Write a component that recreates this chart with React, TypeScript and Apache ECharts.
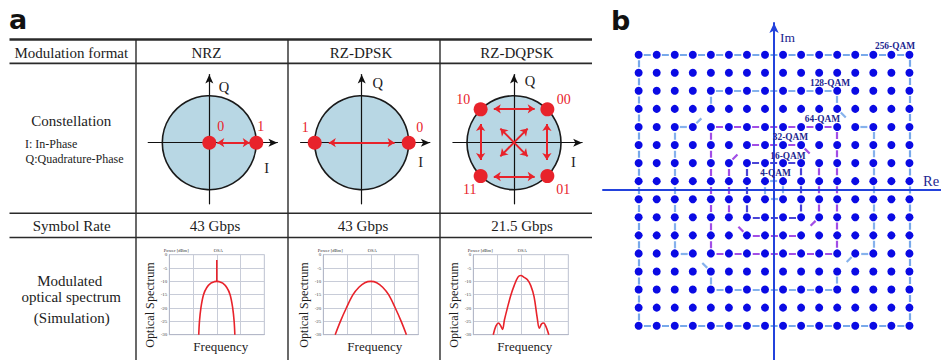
import React, { useEffect, useRef } from 'react';
import * as echarts from 'echarts';

// ---------------- Data ----------------
const headerLabel = 'Modulation format';
const formats = ['NRZ', 'RZ-DPSK', 'RZ-DQPSK'];
const symbolRateLabel = 'Symbol Rate';
const symbolRates = ['43 Gbps', '43 Gbps', '21.5 Gbps'];

// constellation points (unit circle) and their bit labels
const nrzPoints = [[0, 0], [1, 0]];
const nrzBits = ['0', '1'];
const dpskPoints = [[-1, 0], [1, 0]];
const dpskBits = ['1', '0'];
const dqpskPoints = [[-0.71, 0.71], [0.71, 0.71], [-0.71, -0.71], [0.71, -0.71]];
const dqpskBits = ['10', '00', '11', '01'];

// transitions (double arrows)
const nrzTransitions = [[[0.17, 0], [0.86, 0]]];
const dpskTransitions = [[[-0.7, 0], [0.7, 0]]];
const dqpskTransitions = [
  [[-0.43, 0.72], [0.44, 0.72]],
  [[-0.43, -0.72], [0.44, -0.72]],
  [[-0.71, 0.4], [-0.71, -0.37]],
  [[0.7, 0.4], [0.7, -0.37]],
  [[-0.29, 0.3], [0.29, -0.29]],
  [[0.29, 0.3], [-0.29, -0.29]],
];

// spectra (relative frequency, dBm)
const nrzSpectrum = [
  [-0.76, -30], [-0.73, -25], [-0.67, -20], [-0.56, -15], [-0.42, -12.3], [-0.25, -10.7],
  [-0.1, -10.1], [0, -10], [0.1, -10.1], [0.25, -10.7], [0.42, -12.3], [0.56, -15],
  [0.67, -20], [0.73, -25], [0.76, -30],
];
const nrzCarrier = [[0, -10], [0, -2]];
const dpskSpectrum = [
  [-1.5, -30], [-1.28, -25], [-1.03, -20], [-0.75, -15], [-0.5, -12.2], [-0.25, -10.5],
  [0, -10], [0.25, -10.5], [0.5, -12.2], [0.75, -15], [1.03, -20], [1.28, -25], [1.5, -30],
];
const dqpskSpectrum = [
  [-1.16, -30], [-1.05, -26.8], [-0.94, -25.6], [-0.85, -26.6], [-0.77, -28], [-0.69, -24.5],
  [-0.58, -20.5], [-0.42, -15.2], [-0.28, -11.6], [-0.12, -8.4], [0, -7.8], [0.14, -8.5],
  [0.28, -9.4], [0.42, -11.6], [0.56, -15.8], [0.69, -23.6], [0.78, -27.6], [0.87, -26],
  [0.96, -25.6], [1.06, -27], [1.18, -30],
];

// QAM grid
const qamLevels = [-15, -13, -11, -9, -7, -5, -3, -1, 1, 3, 5, 7, 9, 11, 13, 15];
const qam256 = [[-15, 15], [15, 15], [15, -15], [-15, -15]];
const qam128 = [
  [-7, 11], [7, 11], [7, 9], [9, 7], [11, 7], [11, -7], [9, -7], [7, -9],
  [7, -11], [-7, -11], [-7, -9], [-9, -7], [-11, -7], [-11, 7], [-9, 7], [-7, 9],
];
const qam64 = [[-7, 7], [7, 7], [7, -7], [-7, -7]];
const qam32 = [[-3, 5], [3, 5], [5, 3], [5, -3], [3, -5], [-3, -5], [-5, -3], [-5, 3]];
const qam16 = [[-3, 3], [3, 3], [3, -3], [-3, -3]];
const qam4 = [[-1, 1], [1, 1], [1, -1], [-1, -1]];
const qamNames = ['256-QAM', '128-QAM', '64-QAM', '32-QAM', '16-QAM', '4-QAM'];

// ---------------- Layout / style ----------------
const SERIF = 'Liberation Serif, serif';
const SANS = 'DejaVu Sans, sans-serif';
const INK = '#1c1c1c';
const RED = '#e8232b';
const CIRCLE_FILL = '#b8d7e4';
const R = 47;
const C_MIN = -1.3;
const C_MAX = 1.45;
const constCenters = [[209.3, 142.7], [361.7, 142.7], [514, 142.7]];
const specLefts = [169.3, 323.3, 473.3];
const SPEC_TOP = 254.7;
const SPEC_W = 95;
const SPEC_H = 80;
const Q_UNIT = 9.05;
const Q_CX = 774.5;
const Q_CY = 190.5;
const Q_X = [-18.95, 18.5];
const Q_Y = [-18.8, 18.5];

function T(x: number, y: number, text: string, size: number, o: any = {}) {
  return {
    type: 'text',
    x,
    y,
    z: 20,
    rotation: o.rotation || 0,
    style: {
      text,
      fontSize: size,
      fontFamily: o.family || SERIF,
      fontWeight: o.weight || 'normal',
      fill: o.fill || INK,
      align: o.align || 'center',
      verticalAlign: 'middle',
    },
  };
}
function L(x1: number, y1: number, x2: number, y2: number, w: number) {
  return { type: 'line', z: 20, shape: { x1, y1, x2, y2 }, style: { stroke: '#2a2a2a', lineWidth: w } };
}
function segments(poly: number[][]) {
  return poly.map((p, i) => ({ coords: [p, poly[(i + 1) % poly.length]] }));
}

function buildOption() {
  const grid: any[] = [];
  const xAxis: any[] = [];
  const yAxis: any[] = [];
  const series: any[] = [];

  // constellation grids 0..2
  const constData = [
    { pts: nrzPoints, bits: nrzBits, tr: nrzTransitions, offs: [[11.5, -16], [4.5, -16]] },
    { pts: dpskPoints, bits: dpskBits, tr: dpskTransitions, offs: [[-9.5, -15.5], [11, -15.5]] },
    { pts: dqpskPoints, bits: dqpskBits, tr: dqpskTransitions, offs: [[-17.5, -9.5], [16.5, -9.5], [-11, 13.5], [16, 13.5]] },
  ];
  constData.forEach((c, k) => {
    const [cx, cy] = constCenters[k];
    grid.push({ left: cx + C_MIN * R, top: cy - C_MAX * R, width: (C_MAX - C_MIN) * R, height: (C_MAX - C_MIN) * R });
    const ax = {
      gridIndex: k, type: 'value', min: C_MIN, max: C_MAX, z: 3,
      axisLine: { show: true, onZero: true, symbol: ['none', 'arrow'], symbolSize: [6, 9], lineStyle: { color: '#111', width: 1.2 } },
      axisTick: { show: false }, axisLabel: { show: false }, splitLine: { show: false },
    };
    xAxis.push({ ...ax });
    yAxis.push({ ...ax });
    series.push({
      type: 'scatter', xAxisIndex: k, yAxisIndex: k, z: 1, silent: true,
      symbolSize: 2 * R, data: [[0, 0]],
      itemStyle: { color: CIRCLE_FILL, borderColor: '#1a1a1a', borderWidth: 1.6, opacity: 1 },
    });
    series.push({
      type: 'lines', coordinateSystem: 'cartesian2d', xAxisIndex: k, yAxisIndex: k, z: 5, silent: true,
      symbol: ['arrow', 'arrow'], symbolSize: 7,
      lineStyle: { color: RED, width: 2, opacity: 1 },
      data: c.tr.map((s) => ({ coords: s })),
    });
    series.push({
      type: 'scatter', xAxisIndex: k, yAxisIndex: k, z: 6, silent: true,
      symbolSize: 14, itemStyle: { color: RED, opacity: 1 },
      data: c.pts.map((p, i) => ({
        value: p,
        label: {
          show: true, formatter: c.bits[i], position: 'inside', offset: c.offs[i],
          color: RED, fontSize: 14, fontFamily: SERIF,
        },
      })),
    });
  });

  // spectrum grids 3..5
  const specData = [[nrzSpectrum, nrzCarrier], [dpskSpectrum], [dqpskSpectrum]];
  specData.forEach((sd, k) => {
    const gi = 3 + k;
    grid.push({ left: specLefts[k], top: SPEC_TOP, width: SPEC_W, height: SPEC_H, show: true, borderColor: '#c4c8d6', borderWidth: 1 });
    xAxis.push({
      gridIndex: gi, type: 'value', min: -2, max: 2, interval: 1,
      axisLine: { show: true, onZero: false, lineStyle: { color: '#b4b8c8', width: 1 } },
      axisTick: { show: false }, axisLabel: { show: false },
      splitLine: { show: true, lineStyle: { color: '#c8ccd8', width: 1 } },
    });
    yAxis.push({
      gridIndex: gi, type: 'value', min: -30, max: 0, interval: 5,
      axisLine: { show: true, onZero: false, lineStyle: { color: '#b4b8c8', width: 1 } },
      axisTick: { show: false },
      axisLabel: { show: true, fontSize: 5, color: '#444', margin: 2, fontFamily: SERIF },
      splitLine: { show: true, lineStyle: { color: '#c8ccd8', width: 1 } },
    });
    sd.forEach((d, j) => {
      series.push({
        type: 'line', xAxisIndex: gi, yAxisIndex: gi, data: d, smooth: j === 0 ? 0.35 : false,
        showSymbol: false, silent: true, z: 4,
        lineStyle: { color: RED, width: 1.6 },
      });
    });
  });

  // QAM grid 6
  grid.push({
    left: Q_CX + Q_X[0] * Q_UNIT, top: Q_CY - Q_Y[1] * Q_UNIT,
    width: (Q_X[1] - Q_X[0]) * Q_UNIT, height: (Q_Y[1] - Q_Y[0]) * Q_UNIT,
  });
  const qAxisLine = { show: true, onZero: true, lineStyle: { color: '#2342dc', width: 2 } };
  xAxis.push({
    gridIndex: 6, type: 'value', min: Q_X[0], max: Q_X[1], z: 4,
    axisLine: { ...qAxisLine, symbol: ['none', 'none'] },
    axisTick: { show: false }, axisLabel: { show: false }, splitLine: { show: false },
  });
  yAxis.push({
    gridIndex: 6, type: 'value', min: Q_Y[0], max: Q_Y[1], z: 4,
    axisLine: { ...qAxisLine, symbol: ['none', 'arrow'], symbolSize: [7, 10] },
    axisTick: { show: false }, axisLabel: { show: false }, splitLine: { show: false },
  });
  const bounds: [number[][], string][] = [
    [qam256, '#78a9ea'], [qam128, '#86b2ec'], [qam64, '#a24ee6'],
    [qam32, '#a24ee6'], [qam16, '#4a44d6'], [qam4, '#86b2ec'],
  ];
  bounds.forEach(([poly, color]) => {
    series.push({
      type: 'lines', coordinateSystem: 'cartesian2d', xAxisIndex: 6, yAxisIndex: 6, z: 3, silent: true,
      symbol: ['none', 'none'],
      lineStyle: { color, width: 2.2, opacity: 1, type: [7, 11.1], dashOffset: 12.5 },
      data: segments(poly),
    });
  });
  const pts: number[][] = [];
  qamLevels.forEach((x) => qamLevels.forEach((y) => pts.push([x, y])));
  series.push({
    type: 'scatter', xAxisIndex: 6, yAxisIndex: 6, z: 6, silent: true,
    symbolSize: 8, itemStyle: { color: '#0a0ae4', opacity: 1 }, data: pts,
  });

  // ---- graphics: table, texts ----
  const g: any[] = [];
  g.push(T(9, 19, 'a', 27, { family: SANS, weight: 'bold', align: 'left', fill: '#111' }));
  g.push(T(611, 20, 'b', 27, { family: SANS, weight: 'bold', align: 'left', fill: '#111' }));
  g.push(L(9.5, 39.5, 592, 39.5, 2.4));
  g.push(L(9.5, 63.3, 592, 63.3, 1.8));
  g.push(L(9.5, 213.3, 592, 213.3, 1.4));
  g.push(L(9.5, 237.5, 592, 237.5, 1.4));
  [136, 288, 440].forEach((x) => g.push(L(x, 39, x, 360, 1.4)));

  g.push(T(71.3, 53.3, headerLabel, 15));
  const colCenters = [206.5, 361, 517];
  formats.forEach((f, i) => g.push(T(colCenters[i], 53.3, f, 15)));
  g.push(T(71.3, 121, 'Constellation', 15));
  g.push(T(25, 144.3, 'I: In-Phase', 12, { align: 'left' }));
  g.push(T(25.5, 159.3, 'Q:Quadrature-Phase', 12, { align: 'left' }));
  g.push(T(71.7, 226, symbolRateLabel, 15));
  const rateCenters = [215, 363, 522];
  symbolRates.forEach((s, i) => g.push(T(rateCenters[i], 226, s, 15)));
  g.push(T(69.7, 281, 'Modulated', 15));
  g.push(T(71.2, 296.7, 'optical spectrum', 15));
  g.push(T(71.7, 318.3, '(Simulation)', 15));

  // constellation axis names
  const qPos = [[224, 87.3], [377.7, 82.7], [530, 81]];
  const iPos = [[266.7, 168.3], [420.7, 162.3], [573.3, 162.3]];
  qPos.forEach((p) => g.push(T(p[0], p[1], 'Q', 14.5)));
  iPos.forEach((p) => g.push(T(p[0], p[1], 'I', 14.5)));

  // spectrum labels
  specLefts.forEach((l) => {
    g.push(T(l - 19, 305, 'Optical Spectrum', 12.2, { rotation: Math.PI / 2 }));
    g.push(T(l + SPEC_W / 2 + 4, 346, 'Frequency', 13));
    g.push(T(l - 5.5, 250, 'Power [dBm]', 4.6, { align: 'left', fill: '#333' }));
    g.push(T(l + SPEC_W / 2 + 1.5, 250, 'OSA', 4.6, { fill: '#333' }));
  });

  // QAM labels
  const qamLabelPos = [[895, 45.7], [830, 82.7], [822.5, 119.3], [790.5, 137.3], [788, 155.7], [775.5, 173.3]];
  qamNames.forEach((n, i) =>
    g.push(T(qamLabelPos[i][0], qamLabelPos[i][1], n, 9.4, { weight: 'bold', fill: '#1c2690' })),
  );
  g.push(T(780, 37.3, 'Im', 13.5, { align: 'left', fill: '#1c2690' }));
  g.push(T(923, 180.5, 'Re', 14.5, { align: 'left', fill: '#1c2690' }));

  return {
    animation: false,
    backgroundColor: '#ffffff',
    grid, xAxis, yAxis, series,
    graphic: { elements: g },
  };
}

export default function App() {
  const ref = useRef<HTMLDivElement>(null);
  useEffect(() => {
    if (!ref.current) return;
    const chart = echarts.init(ref.current, undefined, { renderer: 'svg' });
    chart.setOption(buildOption() as any);
    return () => chart.dispose();
  }, []);
  return (
    <div
      ref={ref}
      style={{ position: 'absolute', left: 0, top: 0, width: 941, height: 360, background: '#fff' }}
    />
  );
}
